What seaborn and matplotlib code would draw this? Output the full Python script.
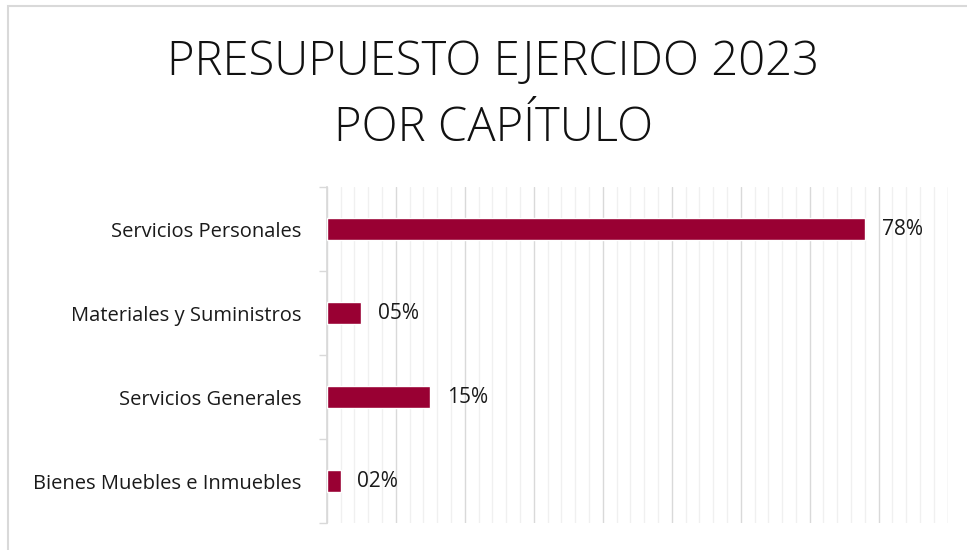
import numpy as np
import pandas as pd
import seaborn as sns
from matplotlib import pyplot as plt
from matplotlib.patches import Rectangle
from matplotlib.ticker import MultipleLocator, FixedLocator

categories = ["Servicios Personales", "Materiales y Suministros",
              "Servicios Generales", "Bienes Muebles e Inmuebles"]
shares = [0.78, 0.05, 0.15, 0.02]

df = pd.DataFrame({"capitulo": categories, "share": shares})

sns.set_theme(style="white")
plt.rcParams["font.family"] = ["Open Sans", "DejaVu Sans"]

fig = plt.figure(figsize=(9.67, 5.5), dpi=100)
ax = fig.add_axes([0.338, 0.049, 0.642, 0.611])

sns.barplot(data=df, x="share", y="capitulo", orient="h", color="#990033",
            width=0.27, saturation=1, ax=ax, zorder=3)

ax.set_xlim(0, 0.9)
ax.set_ylim(3.5, -0.5)
ax.xaxis.set_major_locator(MultipleLocator(0.1))
ax.xaxis.set_minor_locator(MultipleLocator(0.02))
ax.grid(axis="x", which="minor", color="#f0f0f0", lw=1, zorder=0)
ax.grid(axis="x", which="major", color="#d9d9d9", lw=1, zorder=1)
ax.tick_params(axis="x", which="both", bottom=False, labelbottom=False)

ax.yaxis.set_minor_locator(FixedLocator(np.arange(-0.5, 4, 1)))
ax.tick_params(axis="y", which="major", left=False, labelsize=14.5,
               labelcolor="#1a1a1a", pad=12)
ax.tick_params(axis="y", which="minor", left=True, length=6,
               color="#d9d9d9", width=1)
ax.set_xlabel("")
ax.set_ylabel("")
for side in ["top", "right", "bottom"]:
    ax.spines[side].set_visible(False)
ax.spines["left"].set_color("#d9d9d9")

for c in ax.containers:
    ax.bar_label(c, labels=[f"{v * 100:02.0f}%" for v in shares],
                 padding=12, fontsize=15, color="#1a1a1a")

fig.text(0.51, 0.826, "PRESUPUESTO EJERCIDO 2023\nPOR CAPÍTULO",
         ha="center", va="center", fontsize=34, fontweight="light",
         color="#111111", linespacing=1.5)

fig.patches.append(Rectangle((0.008, -0.01), 1.0, 1.0, transform=fig.transFigure,
                             fill=False, edgecolor="#d9d9d9", lw=1.5))

fig.savefig("out.png", dpi=100)
